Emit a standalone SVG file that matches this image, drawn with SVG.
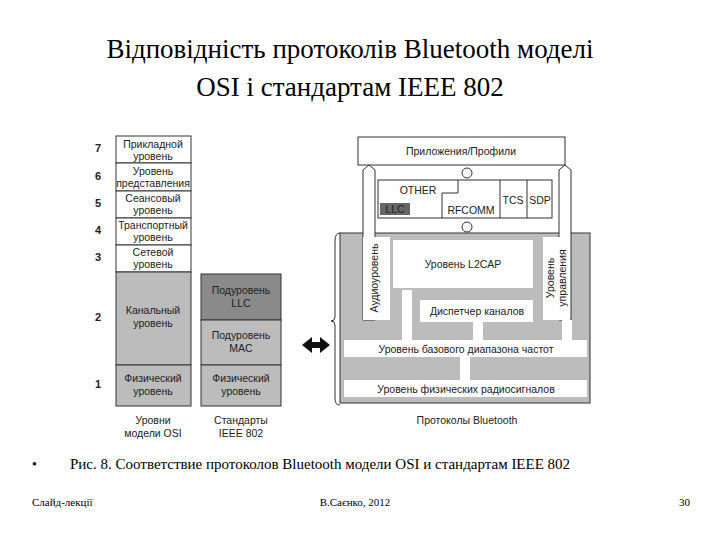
<svg xmlns="http://www.w3.org/2000/svg" width="720" height="540" viewBox="0 0 720 540">
<style>
.s{font-family:"Liberation Serif",serif;fill:#000}
.f{font-family:"Liberation Sans",Arial,sans-serif;font-size:10.5px;text-anchor:middle;fill:#222}
.w{fill:#fff;stroke:#333;stroke-width:1}
.g{fill:#bcbcbc;stroke:#333;stroke-width:1}
.d{fill:#8a8a8a;stroke:#333;stroke-width:1}
.n{font-family:"Liberation Sans",Arial,sans-serif;font-size:11px;font-weight:bold;text-anchor:middle;fill:#222}
</style>
<rect width="720" height="540" fill="#fff"/>
<text class="s" x="350" y="58" font-size="27" text-anchor="middle">Відповідність протоколів Bluetooth моделі</text>
<text class="s" x="350" y="96" font-size="27" text-anchor="middle">OSI і стандартам IEEE 802</text>
<g id="osi">
<rect class="w" x="116" y="136" width="75" height="27"/><text class="f" x="153" y="148">Прикладной</text><text class="f" x="153" y="160">уровень</text>
<rect class="w" x="116" y="163" width="75" height="28"/><text class="f" x="153" y="175">Уровень</text><text class="f" x="153" y="187">представления</text>
<rect class="w" x="116" y="191" width="75" height="27"/><text class="f" x="153" y="202">Сеансовый</text><text class="f" x="153" y="214">уровень</text>
<rect class="w" x="116" y="218" width="75" height="27"/><text class="f" x="153" y="229">Транспортный</text><text class="f" x="153" y="241">уровень</text>
<rect class="w" x="116" y="245" width="75" height="27"/><text class="f" x="153" y="256">Сетевой</text><text class="f" x="153" y="268">уровень</text>
<rect class="g" x="116" y="272" width="75" height="93"/><text class="f" x="153" y="314">Канальный</text><text class="f" x="153" y="327">уровень</text>
<rect class="g" x="116" y="365" width="75" height="41"/><text class="f" x="153" y="382">Физический</text><text class="f" x="153" y="395">уровень</text>
<g class="n"><text x="98" y="152">7</text><text x="98" y="180">6</text><text x="98" y="207">5</text><text x="98" y="234">4</text><text x="98" y="261">3</text><text x="98" y="321">2</text><text x="98" y="388">1</text></g>
<text class="f" x="153" y="424">Уровни</text><text class="f" x="153" y="437">модели OSI</text>
</g>
<g id="ieee">
<rect class="d" x="201" y="274" width="80" height="46"/><text class="f" x="241" y="294">Подуровень</text><text class="f" x="241" y="307">LLC</text>
<rect class="g" x="201" y="320" width="80" height="45"/><text class="f" x="241" y="339">Подуровень</text><text class="f" x="241" y="352">MAC</text>
<rect class="g" x="201" y="365" width="80" height="41"/><text class="f" x="241" y="382">Физический</text><text class="f" x="241" y="395">уровень</text>
<text class="f" x="241" y="424">Стандарты</text><text class="f" x="241" y="437">IEEE 802</text>
</g>
<g id="connectors">
<path d="M302 345 l10 -8 v5 h8 v-5 l10 8 l-10 8 v-5 h-8 v5 z" fill="#111"/>
<circle cx="467" cy="173" r="5" fill="#fff" stroke="#333"/>
<circle cx="467" cy="227" r="5" fill="#fff" stroke="#333"/>
</g>
<g id="bluetooth">
<rect class="g" x="340" y="233" width="250" height="170"/>
<path d="M340 233 q-5 0 -5 8 v76 q0 4 -4 4 q4 0 4 4 v74 q0 6 5 6" fill="none" stroke="#333"/>
<rect class="w" x="358" y="137" width="207" height="28"/><text class="f" x="461" y="155">Приложения/Профили</text>
<rect class="w" x="378" y="180" width="174" height="38"/>
<path d="M458 180 v13 h-16 v25 M500 180 v38 M527 180 v38" fill="none" stroke="#333"/>
<text class="f" x="418" y="194" font-size="11">OTHER</text>
<rect x="380" y="203" width="30" height="12" fill="#666"/><text class="f" x="395" y="213" fill="#fff" font-size="9">LLC</text>
<text class="f" x="471" y="214" font-size="11">RFCOMM</text>
<text class="f" x="513" y="204" font-size="11">TCS</text><text class="f" x="540" y="204" font-size="11">SDP</text>
<path d="M363 170 l6 -5 l6 5 v150 h-12 z" fill="#fff" stroke="#333"/>
<path d="M559 170 l6 -5 l6 5 v150 h-12 z" fill="#fff" stroke="#333"/>
<rect x="363" y="237" width="27" height="83" fill="#fff"/>
<rect x="543" y="237" width="27" height="83" fill="#fff"/>
<text class="f" transform="translate(378 278) rotate(-90)">Аудиоуровень</text>
<text class="f" transform="translate(554 278) rotate(-90)">Уровень</text>
<text class="f" transform="translate(566 278) rotate(-90)">управления</text>
<rect x="393" y="240" width="140" height="48" fill="#fff"/><text class="f" x="463" y="268">Уровень L2CAP</text>
<rect x="420" y="300" width="113" height="22" fill="#fff"/><text class="f" x="477" y="315">Диспетчер каналов</text>
<g fill="#fff"><rect x="402" y="290" width="10" height="50"/><rect x="473" y="322" width="10" height="18"/><rect x="562" y="320" width="10" height="20"/><rect x="460" y="357" width="10" height="23"/></g>
<rect x="344" y="340" width="243" height="17" fill="#fff"/><text class="f" x="466" y="353">Уровень базового диапазона частот</text>
<rect x="344" y="380" width="243" height="17" fill="#fff"/><text class="f" x="466" y="393">Уровень физических радиосигналов</text>
<text class="f" x="467" y="424">Протоколы Bluetooth</text>
</g>
<text class="s" x="32" y="469" font-size="14">•</text>
<text class="s" x="70" y="469" font-size="15">Рис. 8. Соответствие протоколов Bluetooth модели OSI и стандартам IEEE 802</text>
<text class="s" x="32" y="506" font-size="11">Слайд-лекції</text>
<text class="s" x="355" y="506" font-size="11" text-anchor="middle">В.Саєнко, 2012</text>
<text class="s" x="690" y="506" font-size="11" text-anchor="end">30</text>
</svg>
